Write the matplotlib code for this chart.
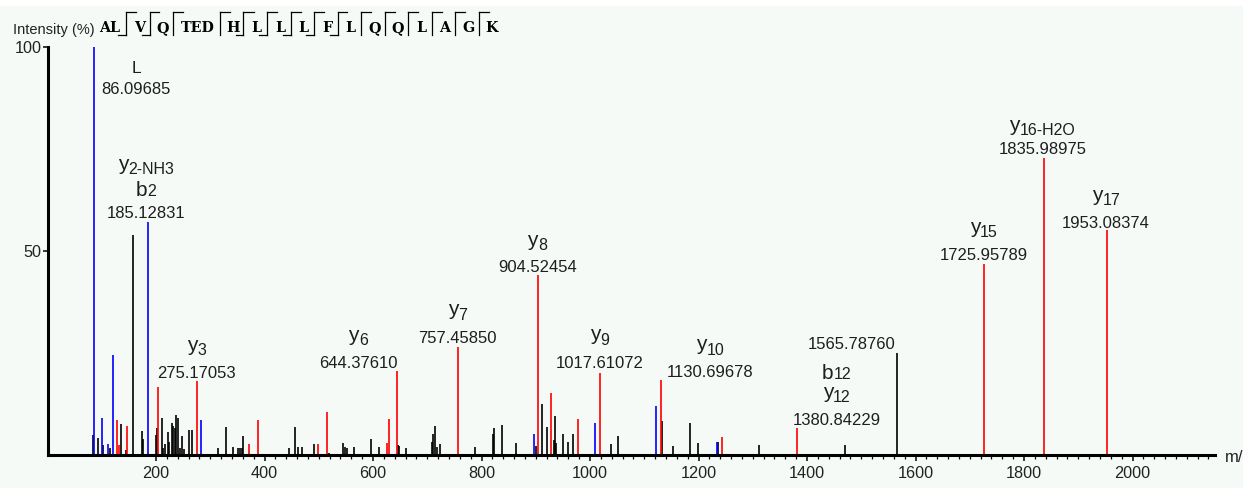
import numpy as np
import matplotlib
matplotlib.use('Agg')
import matplotlib.pyplot as plt
from matplotlib.patches import Rectangle
from matplotlib.lines import Line2D
from matplotlib.transforms import Bbox, TransformedBbox

plt.rcParams['font.family'] = ['Liberation Sans', 'DejaVu Sans']

# ---- data (m/z, relative intensity %) ----
blue_mz = [86.09685, 101.0, 111.5, 121.3, 185.12831, 283.5, 896.2, 1008.7, 1121.1, 1233.5]
blue_int = [100, 9.0, 2.7, 24.5, 57.0, 8.5, 5.2, 7.9, 11.9, 3.3]

red_mz = [128.7, 131.2, 146.5, 203.7, 275.17053, 370.9, 388.6, 498.1, 515.8, 625.3,
          629.0, 644.37610, 757.45850, 904.52454, 928.7, 978.4, 1017.61072, 1130.69678,
          1243.9, 1380.84229, 1725.95789, 1835.98975, 1953.08374]
red_int = [8.6, 2.4, 7.2, 16.6, 18.1, 2.7, 8.6, 2.6, 10.5, 2.9,
           8.9, 20.5, 26.5, 44.1, 15.3, 8.9, 20.2, 18.5,
           4.3, 6.5, 46.8, 72.7, 55.1]

black_mz = [83.3, 93.6, 102.9, 115.8, 136.0, 144.7, 157.0, 174.2, 176.0, 199.4,
            201.3, 211.1, 213.5, 216.0, 221.6, 224.0, 228.9, 231.9, 234.5, 237.4,
            240.0, 244.2, 248.5, 252.2, 260.8, 266.4, 313.7, 328.5, 341.4, 350.6,
            354.8, 358.0, 360.9, 445.7, 455.7, 461.2, 468.6, 490.7, 518.3, 545.3,
            548.4, 552.6, 565.5, 596.3, 611.6, 646.1, 648.5, 660.8, 708.8, 711.2,
            713.7, 718.5, 723.5, 788.6, 820.6, 822.5, 838.3, 863.6, 901.0, 911.0,
            921.3, 933.6, 935.5, 937.9, 950.8, 960.0, 968.1, 1038.2, 1051.6, 1133.3,
            1153.6, 1184.9, 1199.1, 1236.0, 1311.5, 1470.0, 1565.78760]
black_int = [4.9, 4.2, 2.5, 1.7, 7.6, 1.2, 54.0, 5.9, 3.9, 4.9,
             6.6, 9.0, 1.7, 2.7, 5.6, 3.3, 7.9, 7.1, 6.6, 9.8,
             9.0, 1.7, 4.6, 1.5, 6.2, 6.2, 1.7, 6.9, 2.0, 1.7,
             1.7, 1.7, 4.6, 1.7, 6.9, 2.0, 2.0, 2.6, 0.5, 2.9,
             2.0, 1.7, 2.0, 3.9, 2.0, 2.5, 2.3, 1.6, 3.1, 5.2,
             7.2, 1.9, 2.6, 1.9, 5.1, 6.5, 7.3, 2.9, 2.2, 12.6,
             6.9, 3.7, 9.6, 2.9, 5.2, 3.3, 5.2, 2.6, 4.6, 8.3,
             2.3, 7.9, 2.9, 3.3, 2.5, 2.5, 25.0]

# annotated peaks: m/z and ion names (top line first)
ann_mz = [86.09685, 185.12831, 275.17053, 644.37610, 757.45850, 904.52454, 1017.61072,
          1130.69678, 1380.84229, 1565.78760, 1725.95789, 1835.98975, 1953.08374]
ann_ions = [['L'], ['y2-NH3', 'b2'], ['y3'], ['y6'], ['y7'], ['y8'], ['y9'],
            ['y10'], ['b12', 'y12'], [], ['y15'], ['y16-H2O'], ['y17']]

residues = ['AL', 'V', 'Q', 'TED', 'H', 'L', 'L', 'L', 'F', 'L', 'Q', 'Q', 'L', 'A', 'G', 'K']
b_break = [True, True, False, False, True, True, True, True, True,
           False, False, False, False, False, False]

xticks = list(range(200, 2001, 200))
yticks = [50, 100]

# ---- layout ----
W, H = 1255, 488
fig = plt.figure(figsize=(W / 100, H / 100), dpi=100)
fig.patch.set_facecolor('white')
fig.patches.append(Rectangle((0, 0), 1243 / W, 482 / H, transform=fig.transFigure,
                             facecolor='#f5faf7', edgecolor='none', zorder=-10))


def fx(px):
    return px / W


def fy(py):
    return 1 - py / H


ax = fig.add_axes([fx(47.5), fy(455), fx(1215 - 47.5), (455 - 47) / H])
ax.set_facecolor('none')
ax.set_xlim(0, 2152)
ax.set_ylim(0, 100)

ax.vlines(black_mz, 0, black_int, colors='black', lw=1.2)
ax.vlines(red_mz, 0, red_int, colors='#ff0000', lw=1.2)
ax.vlines(blue_mz, 0, blue_int, colors='#0000ff', lw=1.2)

for side in ['top', 'right']:
    ax.spines[side].set_visible(False)
for side in ['left', 'bottom']:
    ax.spines[side].set_linewidth(2.2)
    ax.spines[side].set_color('black')

ax.set_xticks(xticks)
ax.set_xticks(np.arange(200, 2151, 20), minor=True)
ax.set_yticks(yticks)
ax.tick_params(axis='x', which='major', length=4.2, width=1.1, pad=4,
               labelsize=11.7, labelcolor='#222222')
ax.tick_params(axis='x', which='minor', length=3.2, width=0.9)
ax.tick_params(axis='y', which='major', length=3.8, width=1.1, pad=0.5,
               labelsize=11.7, labelcolor='#222222')

# ---- peak labels ----
all_mz = np.array(blue_mz + red_mz + black_mz)
all_int = np.array(blue_int + red_int + black_int)
renderer = fig.canvas.get_renderer()
LABEL_COLOR = '#1e1e1e'

# (dx, dy, line spacing) in pixels relative to the peak top
ann_layout = [(42, -47, 21), (-2, 4, 22), (0, 3, 23), (-39, 3, 23), (-1, 4, 23),
              (-1, 3, 22), (0, 5, 23), (49, 3, 22), (40, 3, 23), (-45, 4, 22),
              (0, 4, 23), (-1, 4, 19), (-1, 2, 23)]


def put_line(mz, inten, parts, dx, dy):
    texts = []
    for txt, size, shift in parts:
        t = ax.annotate(txt, (mz, inten), xytext=(0, 0), textcoords='offset pixels',
                        ha='left', va='baseline', fontsize=size, color=LABEL_COLOR,
                        annotation_clip=False)
        texts.append((t, shift))
    widths = [t.get_window_extent(renderer).width for t, s in texts]
    x = dx - sum(widths) / 2
    for (t, shift), w in zip(texts, widths):
        t.xyann = (x, dy + shift)
        x += w


def ion_parts(name):
    if name[0] in 'yb' and len(name) > 1:
        shift = 4.5 if name[0] == 'y' else 0
        return [(name[0], 15, shift), (name[1:], 11.5, 0)]
    return [(name, 12.5, 0)]


for mz, ions, (dx, dy, sp) in zip(ann_mz, ann_ions, ann_layout):
    inten = all_int[np.argmin(np.abs(all_mz - mz))]
    put_line(mz, inten, [(f'{mz:.5f}', 12, 0)], dx, dy)
    for k, ion in enumerate(reversed(ions)):
        put_line(mz, inten, ion_parts(ion), dx, dy + sp * (k + 1))

# ---- header: axis title and sequence ----
fig.text(fx(13), fy(30), 'Intensity (%)', fontsize=10.5, color='#222222',
         ha='left', va='center')

cw = 11.75
x = 90.75
seps = []
for i, res in enumerate(residues):
    cell = cw * len(res) + cw
    fig.text(fx(x + cell / 2 + 1.5), fy(28.5), res, fontsize=10.3, fontweight='bold',
             family='DejaVu Serif', color='black', ha='center', va='center')
    x += cell
    if i < len(residues) - 1:
        seps.append(x)

for s, has_b in zip(seps, b_break):
    fig.lines.append(Line2D([fx(s), fx(s)], [fy(12), fy(35)], transform=fig.transFigure,
                            color='black', lw=0.9))
    fig.lines.append(Line2D([fx(s), fx(s + 10)], [fy(12), fy(12)], transform=fig.transFigure,
                            color='black', lw=0.9))
    if has_b:
        fig.lines.append(Line2D([fx(s - 8), fx(s)], [fy(35), fy(35)],
                                transform=fig.transFigure, color='black', lw=0.9))

mz_lbl = fig.text(fx(1225), fy(458), 'm/z', fontsize=12, color='#222222',
                  ha='left', va='center')
mz_lbl.set_clip_box(TransformedBbox(Bbox([[0, 0], [1243 / W, 1]]), fig.transFigure))
mz_lbl.set_clip_on(True)

fig.savefig('out.png', dpi=100, facecolor=fig.get_facecolor())
